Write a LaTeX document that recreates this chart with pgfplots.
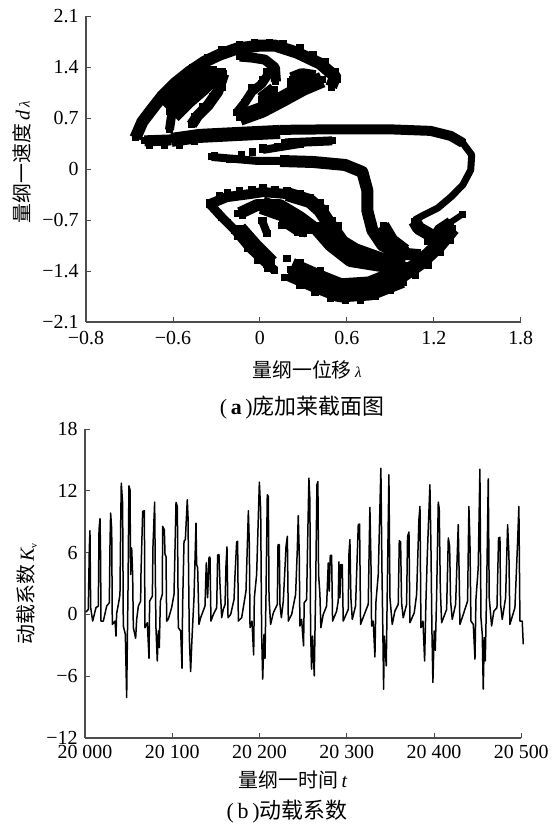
\documentclass[border=0pt]{standalone}
\usepackage{fontspec}
\setmainfont{Liberation Serif}
\newfontfamily\cjk{Noto Sans CJK SC}
\usepackage{pgfplots}
\pgfplotsset{compat=1.18}
\pgfplotsset{
 band/.style={black,line width=#1bp,line join=round,mark=square*,mark size=3bp,mark options={solid,line width=0pt}},
 base/.style={scale only axis,axis x line*=bottom,axis y line*=left,axis line style={color=black!70,line width=1.1bp,-},
  tick align=inside,tick pos=left,major tick length=5bp,tick style={color=black!70,line width=0.8bp},
  tick label style={font=\fontsize{20}{22}\selectfont},
  yticklabel style={xshift=-4bp},
  scaled x ticks=false,scaled y ticks=false,
  /pgf/number format/assume math mode=true,anchor=south west,clip=false}
}
\begin{document}
\begin{tikzpicture}[x=1bp,y=1bp]
\path[use as bounding box] (0,0) rectangle (553,825);
\begin{axis}[base,at={(86bp,503bp)},width=434.7bp,height=306bp,
 xmin=-1.2,xmax=1.8,ymin=-2.1,ymax=2.1,xticklabel style={yshift=-6bp},
 xtick={-1.2,-0.6,0,0.6,1.2,1.8},xticklabels={−0.8,−0.6,0,0.6,1.2,1.8},
 ytick={-2.1,-1.4,-0.7,0,0.7,1.4,2.1},yticklabels={−2.1,−1.4,−0.7,0,0.7,1.4,2.1}]
% upper lobe
\addplot[band=12] coordinates {(-0.859,0.427)(-0.811,0.647)(-0.748,0.812)(-0.672,1.005)(-0.589,1.170)(-0.485,1.336)(-0.381,1.473)(-0.277,1.570)(-0.159,1.652)(0,1.694)(0.104,1.694)(0.256,1.597)(0.416,1.446)(0.520,1.267)(0.492,1.129)};
\addplot[band=26] coordinates {(-0.624,0.785)(-0.520,0.992)(-0.416,1.170)(-0.319,1.363)};
\addplot[band=16] coordinates {(-0.139,0.702)(0.014,0.812)(0.159,0.964)(0.298,1.115)(0.430,1.226)};
\addplot[band=15] coordinates {(0.222,1.226)(0.291,1.281)(0.381,1.253)};
\addplot[band=18] coordinates {(0.250,1.250)(0.250,1.100)};
\addplot[band=15] coordinates {(0.014,0.950)(0.104,1.088)};
\addplot[band=10] coordinates {(-0.139,1.543)(-0.055,1.529)(0.035,1.501)(0.104,1.391)(0.111,1.198)};
\addplot[band=9] coordinates {(-0.159,0.771)(-0.104,0.909)(-0.055,1.060)(0.014,1.170)(0.055,1.294)};
\addplot[band=9] coordinates {(-0.624,0.537)(-0.610,0.730)(-0.520,0.868)(-0.430,1.088)(-0.346,1.253)(-0.298,1.336)};
\addplot[band=11] coordinates {(-0.471,0.606)(-0.430,0.730)(-0.360,0.868)(-0.291,1.060)(-0.249,1.308)};
% main band
\addplot[band=11] coordinates {(-0.797,0.386)(-0.610,0.399)};
\addplot[band=14] coordinates {(-0.610,0.399)(-0.416,0.454)(-0.139,0.482)(0.139,0.509)};
\addplot[band=10] coordinates {(0.139,0.537)(0.485,0.544)(0.901,0.544)(1.178,0.523)(1.317,0.454)(1.400,0.358)};
\addplot[band=9] coordinates {(0.173,0.358)(0.499,0.386)};
\addplot[band=8] coordinates {(0.021,0.262)(0.277,0.344)};
% right curve and hook
\addplot[black,line width=7bp,line join=round] coordinates {(1.400,0.358)(1.462,0.193)(1.455,-0.014)(1.400,-0.220)(1.317,-0.386)(1.227,-0.537)(1.130,-0.633)(1.067,-0.702)};
\addplot[band=13] coordinates {(1.067,-0.716)(1.095,-0.812)(1.192,-0.923)};
\addplot[band=6] coordinates {(1.400,-0.620)(1.317,-0.730)};
\addplot[band=11] coordinates {(1.317,-0.730)(1.234,-0.840)(1.282,-0.978)};
\addplot[band=16] coordinates {(1.160,-1.000)(1.300,-0.850)};
% second curve
\addplot[band=8] coordinates {(-0.333,0.165)(-0.173,0.138)(-0.014,0.110)(0.139,0.110)};
\addplot[black,line width=12bp,line join=round] coordinates {(0.139,0.110)(0.367,0.096)(0.589,0.055)(0.707,-0.041)(0.741,-0.289)(0.741,-0.565)(0.776,-0.840)(0.845,-1.047)(0.956,-1.157)(1.109,-1.184)};
\addplot[band=12] coordinates {(0.852,-0.771)(0.914,-0.978)(1.005,-1.115)};
% lower lobe
\addplot[band=10] coordinates {(-0.346,-0.482)(-0.229,-0.386)(-0.069,-0.344)(0.021,-0.317)(0.187,-0.344)};
\addplot[band=14] coordinates {(0.187,-0.344)(0.346,-0.441)(0.416,-0.565)(0.485,-0.771)(0.568,-1.005)(0.658,-1.115)(0.832,-1.239)(0.970,-1.253)};
\addplot[band=9] coordinates {(-0.346,-0.482)(-0.263,-0.661)(-0.173,-0.840)(-0.069,-1.088)(0.049,-1.308)(0.104,-1.391)};
\addplot[band=14] coordinates {(-0.139,-0.813)(-0.035,-1.047)(0.083,-1.281)};
\addplot[band=12] coordinates {(-0.139,-0.606)(-0.021,-0.496)(0.139,-0.496)(0.277,-0.661)(0.388,-0.826)(0.485,-1.047)(0.624,-1.263)(0.852,-1.336)(1.005,-1.322)};
\addplot[band=18] coordinates {(0.014,-0.496)(0.208,-0.633)(0.346,-0.840)};
\addplot[band=16] coordinates {(0.402,-0.771)(0.554,-1.115)(0.693,-1.226)};
\addplot[band=8] coordinates {(0.014,-0.702)(0.049,-0.881)};
\addplot[band=8] coordinates {(0.159,-0.730)(0.263,-0.868)};
\addplot[band=24] coordinates {(0.208,-1.377)(0.381,-1.528)(0.554,-1.666)(0.762,-1.639)(0.970,-1.473)};
\addplot[band=15] coordinates {(0.970,-1.473)(1.109,-1.281)(1.234,-1.047)(1.331,-0.812)};
% individual section points along the edges
\addplot[only marks,black,mark=square*,mark size=3.1bp,mark options={line width=0pt}] coordinates {
(-.839,.523)(-.776,.702)(-.707,.909)(-.638,1.060)(-.554,1.239)(-.464,1.391)(-.360,1.528)(-.263,1.639)(-.139,1.707)(-.035,1.735)(.069,1.735)(.159,1.721)(.277,1.666)(.367,1.570)(.450,1.473)(.520,1.336)(.534,1.226)(.492,1.115)
(-.256,1.336)(-.277,1.226)(-.256,1.115)(-.326,.992)(-.395,.854)(-.450,.716)
(-.083,1.543)(.049,1.336)(.021,1.226)(-.055,1.115)(-.104,.909)
(-.762,.317)(-.658,.317)(-.554,.330)(-.450,.372)
(-.312,.179)(-.208,.138)(-.125,.193)(-.049,.234)(.021,.289)(.125,.303)(.208,.344)(.277,.344)
(-.346,-.468)(-.277,-.372)(-.222,-.330)(-.139,-.303)(-.055,-.289)(.021,-.262)(.104,-.289)(.187,-.303)(.277,-.344)(.346,-.386)(.416,-.455)(.450,-.537)(.499,-.702)(.541,-.771)(.576,-.978)(.610,-1.088)
(-.284,-.606)(-.222,-.730)(-.152,-.923)(-.083,-1.088)(-.014,-1.253)(.055,-1.363)
(-.152,-.606)(-.118,-.633)(.021,-.702)(.049,-.881)(.152,-.771)(.256,-.840)(.298,-.881)
(.173,-1.487)(.277,-1.597)(.381,-1.694)(.485,-1.776)(.589,-1.804)(.693,-1.804)(.797,-1.749)(.901,-1.666)(.991,-1.556)(1.074,-1.460)(1.164,-1.322)(1.247,-1.143)(1.317,-.978)
(.187,-1.226)(.277,-1.281)(.416,-1.391)};
\end{axis}
\begin{axis}[base,at={(85bp,87bp)},width=436.3bp,height=309bp,
 xmin=20000,xmax=20500,ymin=-12,ymax=18,xticklabel style={yshift=-4bp},
 xtick={20000,20100,20200,20300,20400,20500},xticklabels={20 000,20 100,20 200,20 300,20 400,20 500},
 ytick={-12,-6,0,6,12,18},yticklabels={−12,−6,0,6,12,18}]
\addplot[black,line width=1.5bp,line join=round,x filter/.expression={20000+(1+0.88*(x-20000))/0.8726}] coordinates {
(20000,.23)(20002.6,.48)(20003.8,6.45)(20004.5,8.13)(20005.3,.65)(20007.6,-.65)(20011.3,.65)(20014.0,.81)(20014.8,8.23)(20015.9,9.29)(20016.6,5.55)(20017.0,-.65)(20019.7,-.65)(20023.5,.81)(20026.5,1.13)(20027.3,6.94)(20028.0,9.84)(20029.2,8.23)(20029.9,-.97)(20033.0,-.65)(20034.1,-2.10)(20034.8,.06)(20037.1,1.13)(20038.6,1.94)(20039.4,8.71)(20040.1,12.74)(20041.6,10.81)(20042.4,-1.13)(20044.7,-1.94)(20046.2,-8.06)(20047.0,-2.58)(20047.7,2.10)(20048.8,12.48)(20050.0,12.10)(20050.7,3.87)(20051.9,6.45)(20053.0,3.87)(20053.8,-1.29)(20056.4,-2.32)(20057.6,-.48)(20059.5,.81)(20062.1,1.29)(20062.5,4.03)(20064.4,10.0)(20066.3,10.06)(20067.0,-1.29)(20069.7,-.81)(20071.6,-4.26)(20072.3,1.29)(20075.4,1.77)(20076.1,6.61)(20078.0,10.90)(20078.8,3.87)(20079.5,-1.29)(20081.0,-4.52)(20082.2,-1.61)(20083.3,-3.23)(20084.5,1.29)(20086.7,1.94)(20087.1,8.55)(20089.0,8.23)(20089.8,5.81)(20090.9,5.65)(20091.7,-.65)(20093.5,-.48)(20097.3,.65)(20100.0,1.94)(20102.3,10.87)(20103.8,10.48)(20104.9,-1.29)(20107.6,-1.61)(20109.1,-5.23)(20109.8,.97)(20111.4,7.10)(20112.9,7.26)(20115.1,11.13)(20115.9,9.52)(20117.4,-2.26)(20118.9,-5.55)(20120.4,-2.42)(20122.7,1.61)(20125.0,8.87)(20125.7,4.84)(20126.9,4.52)(20128.4,-.97)(20130.3,-.32)(20135.2,.81)(20136.7,5.0)(20138.2,1.61)(20139.8,5.55)(20140.9,5.55)(20142.0,-.65)(20144.7,0)(20148.5,.65)(20149.6,5.74)(20151.1,5.81)(20152.3,2.84)(20154.2,-.32)(20156.0,.48)(20158.0,.97)(20159.1,4.77)(20160.2,6.55)(20161.4,-.32)(20164.4,0)(20168.2,1.45)(20169.3,3.77)(20171.2,7.03)(20172.3,7.10)(20173.1,-.65)(20176.9,-.32)(20181.8,2.26)(20184.5,10.06)(20185.6,6.77)(20186.4,-1.29)(20188.6,-.65)(20190.5,-3.94)(20191.3,1.61)(20193.9,3.87)(20197.0,12.84)(20198.5,10.16)(20199.6,-1.94)(20200.8,-6.29)(20202.3,-1.94)(20203.4,-4.26)(20204.5,1.61)(20206.0,11.61)(20207.2,11.45)(20208.0,1.61)(20209.8,-.97)(20212.9,.16)(20217.4,.97)(20218.2,6.77)(20219.7,6.77)(20220.4,.97)(20222.0,-.32)(20224.2,1.29)(20227.3,6.61)(20228.8,7.58)(20229.9,-.65)(20233.7,0)(20238.2,1.94)(20240.1,6.29)(20241.2,9.58)(20242.3,5.97)(20243.1,-1.13)
(20245.0,-.48)(20247.2,-3.06)(20248.0,1.13)(20250.7,1.45)(20251.8,6.77)(20253.3,13.23)(20254.4,11.13)(20255.2,-1.45)(20256.3,-5.32)(20257.5,-2.10)(20259.4,-5.97)(20260.9,1.94)(20262.4,12.58)(20263.5,12.90)(20264.3,3.87)(20265.8,1.94)(20266.9,-1.29)(20269.6,0)(20273.4,.81)(20275.3,5.0)(20276.4,2.26)(20277.6,5.74)(20279.1,5.74)(20280.2,-.65)(20284.8,.32)(20286.6,1.29)(20287.4,5.10)(20288.5,1.61)(20289.7,4.84)(20291.2,4.84)(20292.3,-.65)(20298.0,.48)(20298.8,5.87)(20299.9,7.26)(20301.0,1.61)(20302.6,-.48)(20306.3,.81)(20309.4,8.71)(20310.9,8.77)(20312.0,-.97)(20317.0,.16)(20320.7,.97)(20322.6,10.39)(20323.8,5.16)(20324.5,-1.13)(20326.4,-.65)(20328.3,-4.13)(20329.4,1.13)(20332.1,3.87)(20335.1,14.19)(20336.3,4.35)(20337.4,-2.10)(20338.2,-7.26)(20338.9,-2.10)(20341.2,-5.0)(20342.3,1.94)(20344.2,13.55)(20345.4,1.61)(20348.0,-.97)(20351.0,.32)(20354.8,.97)(20356.0,7.16)(20357.5,7.03)(20358.6,1.13)(20360.5,-.32)(20364.3,.97)(20365.4,7.58)(20367.0,8.0)(20368.1,-.81)(20373.0,.16)(20375.7,1.94)(20378.3,9.19)(20379.5,10.48)(20380.6,-1.29)(20382.9,-.65)(20384.8,-4.52)(20386.3,1.29)(20387.8,5.65)(20390.8,12.58)(20392.0,6.45)(20393.1,-1.61)(20394.2,-6.61)(20395.7,-1.61)(20396.9,-3.48)(20398.4,1.61)(20400.3,10.90)(20401.4,10.26)(20402.6,2.58)(20404.1,-.81)(20409.8,.48)(20411.7,7.42)(20413.2,6.61)(20414.3,1.29)(20416.2,-.48)(20420.0,.97)(20423.0,8.71)(20424.2,3.06)(20424.9,-.97)(20428.7,0)(20433.6,1.29)(20435.1,10.48)(20436.3,6.94)(20437.4,-.65)(20440.1,-.97)(20442.0,-4.35)(20443.1,1.45)(20445.7,4.52)(20447.6,14.10)(20448.8,-.32)(20450.3,-1.94)(20451.4,-7.26)(20452.6,-2.26)(20453.7,-4.52)(20455.2,1.94)(20457.1,13.16)(20458.2,1.61)(20460.9,-1.13)(20463.5,.32)(20467.0,.65)(20468.8,7.42)(20470.4,7.48)(20471.1,.97)(20473.0,-.48)(20476.8,1.61)(20479.1,8.71)(20480.6,5.74)(20481.7,-.97)(20487.4,.65)(20490.4,6.94)(20491.9,10.48)(20493.1,-.65)(20495.7,-.65)(20496.9,-2.90)};
\end{axis}
\def\fs{\fontsize{20}{24}\selectfont}
\def\ft{\fontsize{22}{26}\selectfont}
\node[font=\fs] at (307,455) {\cjk 量纲一位移\,{\fontsize{15}{18}\selectfont\normalfont\itshape λ}};
\node[font=\ft] at (302,417) {(\,\textbf{a}\,)\cjk 庞加莱截面图};
\node[font=\fs,rotate=90] at (22,663) {\cjk 量纲一速度\,{\normalfont\itshape d\,\fontsize{15}{18}\selectfont λ}};
\node[font=\fs,rotate=90] at (27,231) {\cjk 动载系数\,{\normalfont\itshape K}\raisebox{-3bp}{\fontsize{10}{12}\selectfont\normalfont v}};
\node[font=\fs] at (293,45) {\cjk 量纲一时间\,{\normalfont\itshape t}};
\node[font=\ft] at (287,13) {(\,b\,)\cjk 动载系数};
\end{tikzpicture}
\end{document}
